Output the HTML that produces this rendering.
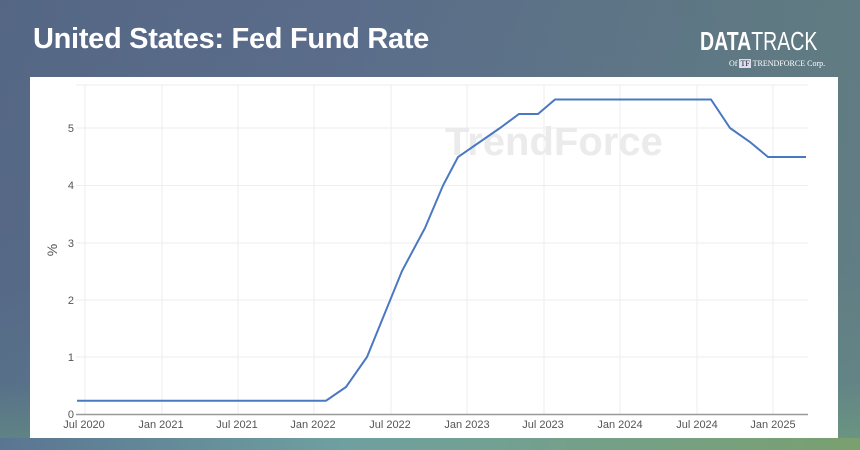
<!DOCTYPE html>
<html><head><meta charset="utf-8"><style>
html,body{margin:0;padding:0}
body{width:860px;height:450px;overflow:hidden;position:relative;font-family:"Liberation Sans",sans-serif;
background:linear-gradient(180deg,#5a6c8a 0%,#5c6f8d 60%,#5e7890 85%,#6a9488 100%);}
.bg2{position:absolute;left:0;top:0;width:860px;height:450px;background:linear-gradient(90deg,rgba(60,80,110,0.2) 0%,rgba(0,0,0,0) 40%,rgba(110,160,110,0.3) 100%);}
.bot{position:absolute;left:0;top:438px;width:860px;height:12px;background:linear-gradient(90deg,#5a7592 0%,#6fa0a0 40%,#7aa070 100%)}
.title{position:absolute;left:33px;top:23px;color:#fff;font-weight:bold;font-size:29px;letter-spacing:-0.3px}
.logo{position:absolute;left:700px;top:26px;color:#fff;font-size:26px;transform:scaleX(0.75);transform-origin:left top;white-space:nowrap}
.logo b{font-weight:bold}
.sub{position:absolute;left:729px;top:59px;color:#fff;font-size:8px;font-family:"Liberation Serif",serif}
.panel{position:absolute;left:30px;top:77px;width:808px;height:361px;background:#fff}
</style></head><body>
<div class="bg2"></div>
<div class="bot"></div>
<div class="title">United States: Fed Fund Rate</div>
<div class="logo"><b>DATA</b>TRACK</div>
<div class="sub">Of <span style="background:#dde;color:#223;padding:0 1px">TF</span> TRENDFORCE Corp.</div>
<div class="panel"></div>
<svg width="860" height="450" style="position:absolute;left:0;top:0">
<g stroke="#eeeeee" stroke-width="1">
<line x1="76" y1="85" x2="808" y2="85"/>
<line x1="76" y1="128" x2="808" y2="128"/>
<line x1="76" y1="185.5" x2="808" y2="185.5"/>
<line x1="76" y1="243" x2="808" y2="243"/>
<line x1="76" y1="300" x2="808" y2="300"/>
<line x1="76" y1="357" x2="808" y2="357"/>
<line x1="85" y1="85" x2="85" y2="414"/><line x1="162" y1="85" x2="162" y2="414"/>
<line x1="238" y1="85" x2="238" y2="414"/><line x1="314" y1="85" x2="314" y2="414"/>
<line x1="391" y1="85" x2="391" y2="414"/><line x1="467" y1="85" x2="467" y2="414"/>
<line x1="544" y1="85" x2="544" y2="414"/><line x1="620" y1="85" x2="620" y2="414"/>
<line x1="697" y1="85" x2="697" y2="414"/><line x1="773" y1="85" x2="773" y2="414"/>
</g>
<text x="445" y="155" font-size="40" font-weight="bold" fill="#ebebeb" font-family="Liberation Sans">TrendForce</text>
<line x1="76" y1="414.5" x2="808" y2="414.5" stroke="#999" stroke-width="1.5"/>
<g font-size="11" fill="#555" text-anchor="end">
<text x="74" y="418">0</text><text x="74" y="361">1</text><text x="74" y="304">2</text>
<text x="74" y="247">3</text><text x="74" y="189">4</text><text x="74" y="132">5</text>
</g>
<text transform="translate(57,250) rotate(-90)" font-size="14" fill="#555" text-anchor="middle">%</text>
<g font-size="11" fill="#555" text-anchor="middle">
<text x="84" y="428">Jul 2020</text><text x="161" y="428">Jan 2021</text>
<text x="237" y="428">Jul 2021</text><text x="313" y="428">Jan 2022</text>
<text x="390" y="428">Jul 2022</text><text x="467" y="428">Jan 2023</text>
<text x="543" y="428">Jul 2023</text><text x="620" y="428">Jan 2024</text>
<text x="697" y="428">Jul 2024</text><text x="773" y="428">Jan 2025</text>
</g>
<polyline fill="none" stroke="#4a78c2" stroke-width="2" points="77,400.7 326,400.7 346,387 367,357 402,271 425,228 443,185.5 458,157 500,128 519,114 538,114 555,99.5 711,99.5 730,128 750,142 768,157 806,157"/>
</svg>
</body></html>
